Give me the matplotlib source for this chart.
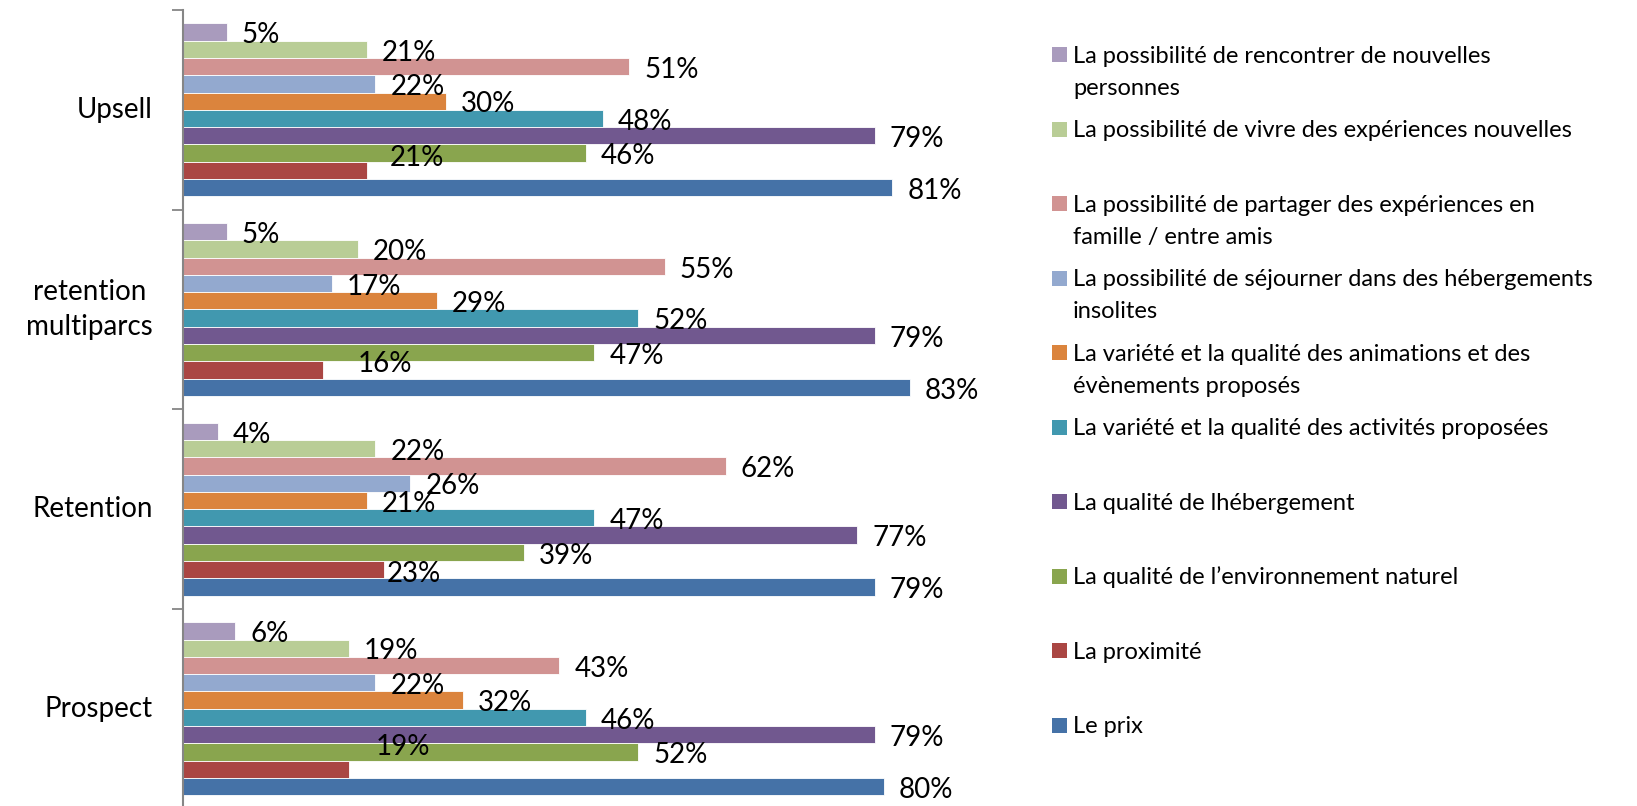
import matplotlib
matplotlib.use("Agg")
import matplotlib.pyplot as plt
from matplotlib.patches import Rectangle

plt.rcParams['font.family'] = ['Lato', 'DejaVu Sans']

# Categories, bottom to top
categories = ["Prospect", "Retention", "retention\nmultiparcs", "Upsell"]

# Series (legend order, top to bottom); values per category above
series_labels = [
    "La possibilité de rencontrer de nouvelles\npersonnes",
    "La possibilité de vivre des expériences nouvelles",
    "La possibilité de partager des expériences en\nfamille / entre amis",
    "La possibilité de séjourner dans des hébergements\ninsolites",
    "La variété et la qualité des animations et des\névènements proposés",
    "La variété et la qualité des activités proposées",
    "La qualité de lhébergement",
    "La qualité de l\u2019environnement naturel",
    "La proximité",
    "Le prix",
]
rencontrer = [6, 4, 5, 5]
vivre = [19, 22, 20, 21]
partager = [43, 62, 55, 51]
sejourner = [22, 26, 17, 22]
animations = [32, 21, 29, 30]
activites = [46, 47, 52, 48]
hebergement = [79, 77, 79, 79]
environnement = [52, 39, 47, 46]
proximite = [19, 23, 16, 21]
prix = [80, 79, 83, 81]
series_values = [rencontrer, vivre, partager, sejourner, animations,
                 activites, hebergement, environnement, proximite, prix]

colors = ["#A99BBD", "#B9CD96", "#D19392", "#93A9CF", "#DB843D",
          "#4198AF", "#71588F", "#89A54E", "#AA4643", "#4572A7"]

# label nudges (pixels: right, up) for the "La proximité" labels
proximite_nudge = {0: (12, 26), 1: (-12, -1), 2: (20, 9), 3: (8, 16)}

W, H = 1637, 806
fig = plt.figure(figsize=(W / 100, H / 100), dpi=100)
ax = fig.add_axes([182.7 / W, (H - 808.6) / H, 876 / W, 798.6 / H])
ax.set_xlim(0, 100)
ax.set_ylim(-0.5, 3.5)

bar_h = 0.0867
for k, (vals, col) in enumerate(zip(series_values, colors)):
    ys = [i + (4.5 - k) * bar_h for i in range(len(categories))]
    ax.barh(ys, vals, height=bar_h, color=col, edgecolor="white", linewidth=0.6)
    for i, (v, y) in enumerate(zip(vals, ys)):
        ndx, ndy = (0, 0)
        if k == 8:
            ndx, ndy = proximite_nudge[i]
        ax.annotate(f"{v}%", xy=(v, y), xytext=(15 + ndx, -11.3 + ndy),
                    textcoords="offset pixels", fontsize=20, va="baseline",
                    ha="left", color="black")

# axes styling
for s in ["top", "right", "bottom"]:
    ax.spines[s].set_visible(False)
ax.spines["left"].set_color("#868686")
ax.spines["left"].set_linewidth(1.5)
ax.set_xticks([])
ax.set_yticks([-0.5, 0.5, 1.5, 2.5, 3.5])
ax.set_yticklabels([])
ax.tick_params(axis="y", length=7.9, width=1.3, color="#868686", direction="out")

for i, cat in enumerate(categories):
    ax.annotate(cat, xy=(0, i), xytext=(-30, 0), textcoords="offset pixels",
                ha="right", va="center", multialignment="center",
                fontsize=20, linespacing=1.4, color="black")

# legend drawn in figure pixel space
for k, (lab, col) in enumerate(zip(series_labels, colors)):
    base = 62.7 + 74.5 * k
    fig.add_artist(Rectangle((1052 / W, 1 - (base - 0.5) / H), 15 / W, 15 / H,
                             transform=fig.transFigure, facecolor=col,
                             edgecolor="none"))
    for j, line in enumerate(lab.split("\n")):
        fig.text(1073 / W, 1 - (base + 32.3 * j) / H, line, fontsize=17,
                 va="baseline", ha="left", color="black")

fig.savefig("out.png", dpi=100, facecolor="white")
